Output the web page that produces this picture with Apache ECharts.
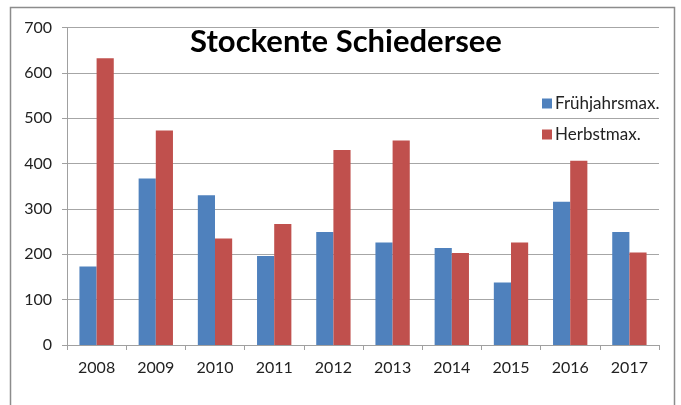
<!DOCTYPE html>
<html>
<head>
<meta charset="utf-8">
<script src="https://cdn.jsdelivr.net/npm/echarts@6/dist/echarts.min.js"></script>
<style>
  html, body { margin: 0; padding: 0; background: #fff; }
  #main { width: 681px; height: 405px; }
</style>
</head>
<body>
<div id="main"></div>
<script>
var years = ['2008', '2009', '2010', '2011', '2012', '2013', '2014', '2015', '2016', '2017'];
var fruehjahr = [173, 367, 330, 196, 249, 226, 214, 138, 316, 249];
var herbst = [632, 473, 235, 267, 430, 451, 203, 226, 406, 204];
var yTicks = [0, 100, 200, 300, 400, 500, 600, 700];

var chart = echarts.init(document.getElementById('main'));
var option = {
    backgroundColor: '#fff',
    animation: false,
    title: {
        text: 'Stockente Schiedersee',
        left: 341,
        textAlign: 'center',
        top: 21,
        textStyle: {
            fontFamily: 'Lato',
            fontWeight: 'bold',
            fontSize: 31,
            color: '#000'
        }
    },
    legend: {
        orient: 'vertical',
        left: 537,
        top: 90,
        itemWidth: 10,
        itemHeight: 10,
        itemGap: 14,
        icon: 'rect',
        data: ['Frühjahrsmax.', 'Herbstmax.'],
        textStyle: {
            fontFamily: 'Lato',
            fontSize: 17,
            color: '#222',
            padding: [0, 0, 0, -2]
        }
    },
    grid: {
        left: 67,
        right: 22,
        top: 27.5,
        bottom: 60
    },
    xAxis: {
        type: 'category',
        data: years,
        axisLine: { lineStyle: { color: '#a0a0a0' } },
        axisTick: { show: true, length: 5, lineStyle: { color: '#a0a0a0' } },
        axisLabel: {
            fontFamily: 'Lato',
            fontSize: 16,
            color: '#222',
            margin: 15
        }
    },
    yAxis: {
        type: 'value',
        min: yTicks[0],
        max: yTicks[yTicks.length - 1],
        interval: 100,
        axisLine: { show: true, lineStyle: { color: '#a0a0a0' } },
        axisTick: { show: true, length: 5, lineStyle: { color: '#a0a0a0' } },
        splitLine: { lineStyle: { color: '#a6a6a6' } },
        axisLabel: {
            fontFamily: 'Lato',
            fontSize: 16,
            color: '#222',
            margin: 15
        }
    },
    graphic: [
        {
            type: 'rect',
            shape: { x: 10.5, y: 7.5, width: 664, height: 410 },
            style: { fill: 'none', stroke: '#8c8c8c', lineWidth: 1.5 },
            silent: true
        }
    ],
    series: [
        {
            name: 'Frühjahrsmax.',
            type: 'bar',
            data: fruehjahr,
            barGap: 0,
            barCategoryGap: '42%',
            itemStyle: { color: '#4f81bd' }
        },
        {
            name: 'Herbstmax.',
            type: 'bar',
            data: herbst,
            itemStyle: { color: '#c0504d' }
        }
    ]
};
chart.setOption(option);
</script>
</body>
</html>
